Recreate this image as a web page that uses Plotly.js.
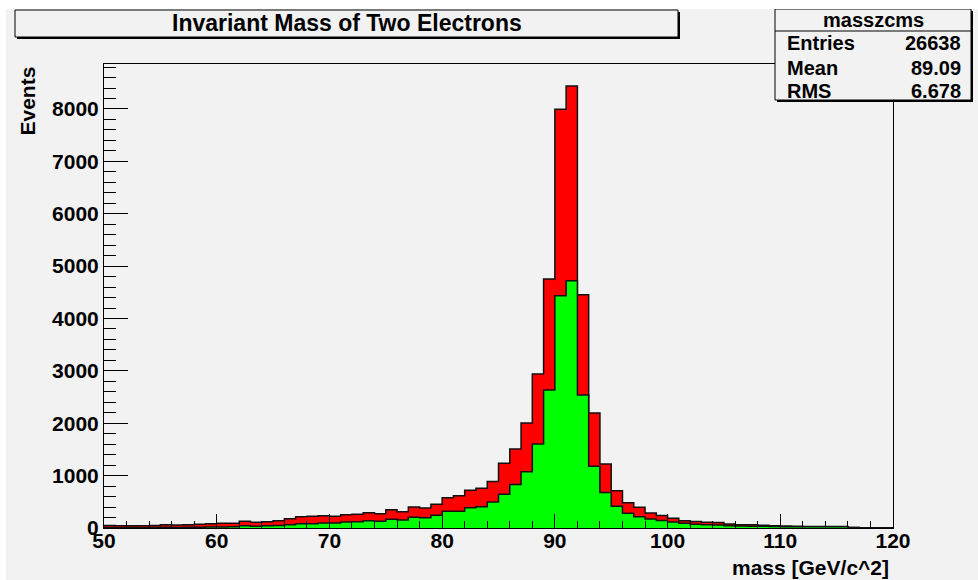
<!DOCTYPE html>
<html>
<head>
<meta charset="utf-8">
<script src="https://cdn.plot.ly/plotly-3.0.1.min.js"></script>
<style>
  html, body { margin: 0; padding: 0; background: #ffffff; }
  #chart { position: absolute; left: 6px; top: 9px; width: 972px; height: 571px; }
</style>
</head>
<body>
<div id="chart"></div>
<script>
// Invariant mass histogram: 1 GeV bins from 50 to 120 GeV/c^2
const binLow = 50;
const binWidth = 1;

// All candidate pairs (red) per bin, 50..119
const allPairs = [
  50, 45, 45, 45, 50, 64, 57, 64, 70, 83,
  89, 89, 127, 108, 121, 140, 178, 216, 223, 235,
  223, 254, 261, 293, 273, 350, 312, 400, 382, 452,
  579, 617, 719, 757, 890, 1234, 1507, 2005, 2942, 4752,
  7996, 8437, 4453, 2194, 1221, 712, 483, 394, 285, 240,
  185, 140, 125, 112, 105, 76, 64, 64, 51, 45,
  38, 32, 30, 30, 30, 30, 8, 6, 5, 5
];

// masszcms (green) per bin, 50..119
const masszcms = [
  8, 6, 9, 7, 10, 12, 10, 13, 15, 17,
  19, 25, 45, 32, 45, 50, 64, 83, 83, 95,
  95, 115, 121, 140, 127, 165, 153, 204, 197, 242,
  318, 318, 388, 407, 496, 642, 830, 1075, 1603, 2633,
  4433, 4720, 2538, 1177, 680, 413, 280, 216, 172, 145,
  114, 89, 70, 64, 57, 45, 38, 35, 32, 30,
  25, 25, 25, 25, 25, 25, 8, 5, 5, 4
];

const titleText = 'Invariant Mass of Two Electrons';
const xTitle = 'mass [GeV/c^2]';
const yTitle = 'Events';
const statsName = 'masszcms';
const statsLabels = ['Entries', 'Mean', 'RMS'];
const statsValues = ['26638', '89.09', '6.678'];

// Step outline: each bin's lower edge, plus the closing upper edge
function stepTrace(values, fill) {
  const xs = [], ys = [];
  values.forEach((v, i) => { xs.push(binLow + i * binWidth); ys.push(v); });
  xs.push(binLow + values.length * binWidth);
  ys.push(values[values.length - 1]);
  return {
    type: 'scatter', mode: 'lines', x: xs, y: ys,
    line: { shape: 'hv', color: '#111111', width: 1.5 },
    fill: 'tozeroy', fillcolor: fill, hoverinfo: 'skip', showlegend: false
  };
}

// Page-pixel helpers for the frame (plot area spans x 104..893, y 64..528)
const PL = 104, PR = 893, PT = 64, PB = 528;
const px = x => (x - PL) / (PR - PL);
const py = y => (PB - y) / (PB - PT);

const FONT = 'Liberation Sans, Arial, Helvetica, sans-serif';
const GRAY = '#f2f2f2';

function boxWithShadow(x0, y0, x1, y1) {
  return [
    { type: 'rect', xref: 'paper', yref: 'paper', layer: 'above',
      x0: px(x0 + 2), x1: px(x1 + 2), y0: py(y0 + 2), y1: py(y1 + 2),
      fillcolor: '#000000', line: { width: 0 } },
    { type: 'rect', xref: 'paper', yref: 'paper', layer: 'above',
      x0: px(x0), x1: px(x1), y0: py(y0), y1: py(y1),
      fillcolor: GRAY, line: { color: '#000000', width: 1 } }
  ];
}

const shapes = [].concat(
  boxWithShadow(15, 10, 678, 37),
  boxWithShadow(775, 9, 971, 100),
  [{ type: 'line', xref: 'paper', yref: 'paper', layer: 'above',
     x0: px(775), x1: px(971), y0: py(31), y1: py(31),
     line: { color: '#000000', width: 1 } }]
);

const annotations = [
  { text: titleText, x: px(346.5), y: py(23.5), xanchor: 'center', yanchor: 'middle',
    font: { family: FONT, size: 23, weight: 'bold', color: '#000' } },
  { text: statsName, x: px(873), y: py(20), xanchor: 'center', yanchor: 'middle',
    font: { family: FONT, size: 20, weight: 'bold', color: '#000' } },
  { text: xTitle, x: px(891), y: py(567), xanchor: 'right', yanchor: 'middle',
    font: { family: FONT, size: 21, weight: 'bold', color: '#000' } },
  { text: yTitle, x: px(27), y: py(65), xanchor: 'center', yanchor: 'top', textangle: -90,
    font: { family: FONT, size: 21, weight: 'bold', color: '#000' } }
];
const rowY = [43.5, 68, 90.5];
statsLabels.forEach((lab, i) => {
  annotations.push({ text: lab, x: px(785), y: py(rowY[i]), xanchor: 'left', yanchor: 'middle',
    font: { family: FONT, size: 20, weight: 'bold', color: '#000' } });
  annotations.push({ text: statsValues[i], x: px(963), y: py(rowY[i]), xanchor: 'right', yanchor: 'middle',
    font: { family: FONT, size: 20, weight: 'bold', color: '#000' } });
});
annotations.forEach(a => { a.xref = 'paper'; a.yref = 'paper'; a.showarrow = false; });

const layout = {
  width: 972, height: 571,
  margin: { l: PL - 6, r: 978 - PR, t: PT - 9, b: 580 - PB, pad: 0 },
  paper_bgcolor: GRAY, plot_bgcolor: GRAY,
  showlegend: false,
  xaxis: {
    range: [50, 120], tickmode: 'linear', tick0: 50, dtick: 10,
    ticks: 'inside', ticklen: 14, tickcolor: '#000', tickwidth: 1,
    ticklabelstandoff: -6,
    minor: { dtick: 2, ticks: 'inside', ticklen: 7, tickcolor: '#000', showgrid: false },
    showline: true, linecolor: '#000', linewidth: 1, mirror: true,
    showgrid: false, zeroline: false,
    tickfont: { family: FONT, size: 21, weight: 'bold', color: '#000' }
  },
  yaxis: {
    range: [0, 8859], tickmode: 'linear', tick0: 0, dtick: 1000,
    ticks: 'inside', ticklen: 24, tickcolor: '#000', tickwidth: 1,
    minor: { dtick: 200, ticks: 'inside', ticklen: 12, tickcolor: '#000', showgrid: false },
    showline: true, linecolor: '#000', linewidth: 1, mirror: true,
    showgrid: false, zeroline: false,
    tickfont: { family: FONT, size: 21, weight: 'bold', color: '#000' }
  },
  shapes: shapes,
  annotations: annotations
};

Plotly.newPlot('chart', [stepTrace(allPairs, '#ff0000'), stepTrace(masszcms, '#00ff00')], layout,
  { staticPlot: true, displayModeBar: false });
</script>
</body>
</html>
